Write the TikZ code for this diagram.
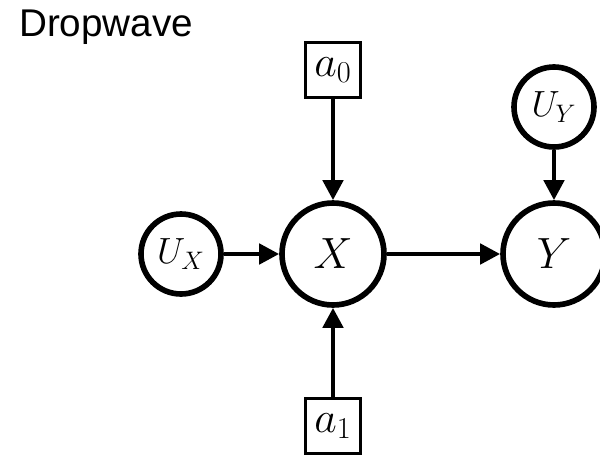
\documentclass[tikz,border=0pt]{standalone}
\usepackage{fontspec}
\newfontfamily\labelfont{Liberation Sans}
\usetikzlibrary{arrows.meta,positioning}

\begin{document}
\begin{tikzpicture}[->,>={Triangle[length=0.4cm,width=0.4cm]},line width=2.6pt,node distance=3cm,on grid,
  var/.style={circle,draw,line width=3.2pt,minimum size=2.04cm,inner sep=0pt,font=\fontsize{27}{32}\selectfont},
  noise/.style={circle,draw,line width=3.2pt,minimum size=1.6cm,inner sep=0pt,font=\fontsize{22}{26}\selectfont},
  intv/.style={rectangle,draw,line width=1.3pt,minimum size=1.1cm,inner sep=0pt,font=\fontsize{26}{30}\selectfont}]

  \useasboundingbox (0,0) rectangle (12,-9.12);
  \node[anchor=base west,font=\labelfont\fontsize{22}{26}\selectfont] (title) at (0.22,-0.72) {Dropwave};

  \node[var]   (X)  at (6.66,-5.08)       {$X$};
  \node[var]   (Y)  [right=4.42cm of X]  {$Y$};
  \node[noise] (UX) [left=3.04cm of X]   {$U_X$};
  \node[noise] (UY) [above=2.94cm of Y]  {$U_Y$};
  \node[intv]  (A0) [above=3.68cm of X]  {$a_0$};
  \node[intv]  (A1) [below=3.44cm of X]  {$a_1$};

  \path (UX) edge (X)
        (A0) edge (X)
        (A1) edge (X)
        (X)  edge (Y)
        (UY) edge (Y);
\end{tikzpicture}
\end{document}
